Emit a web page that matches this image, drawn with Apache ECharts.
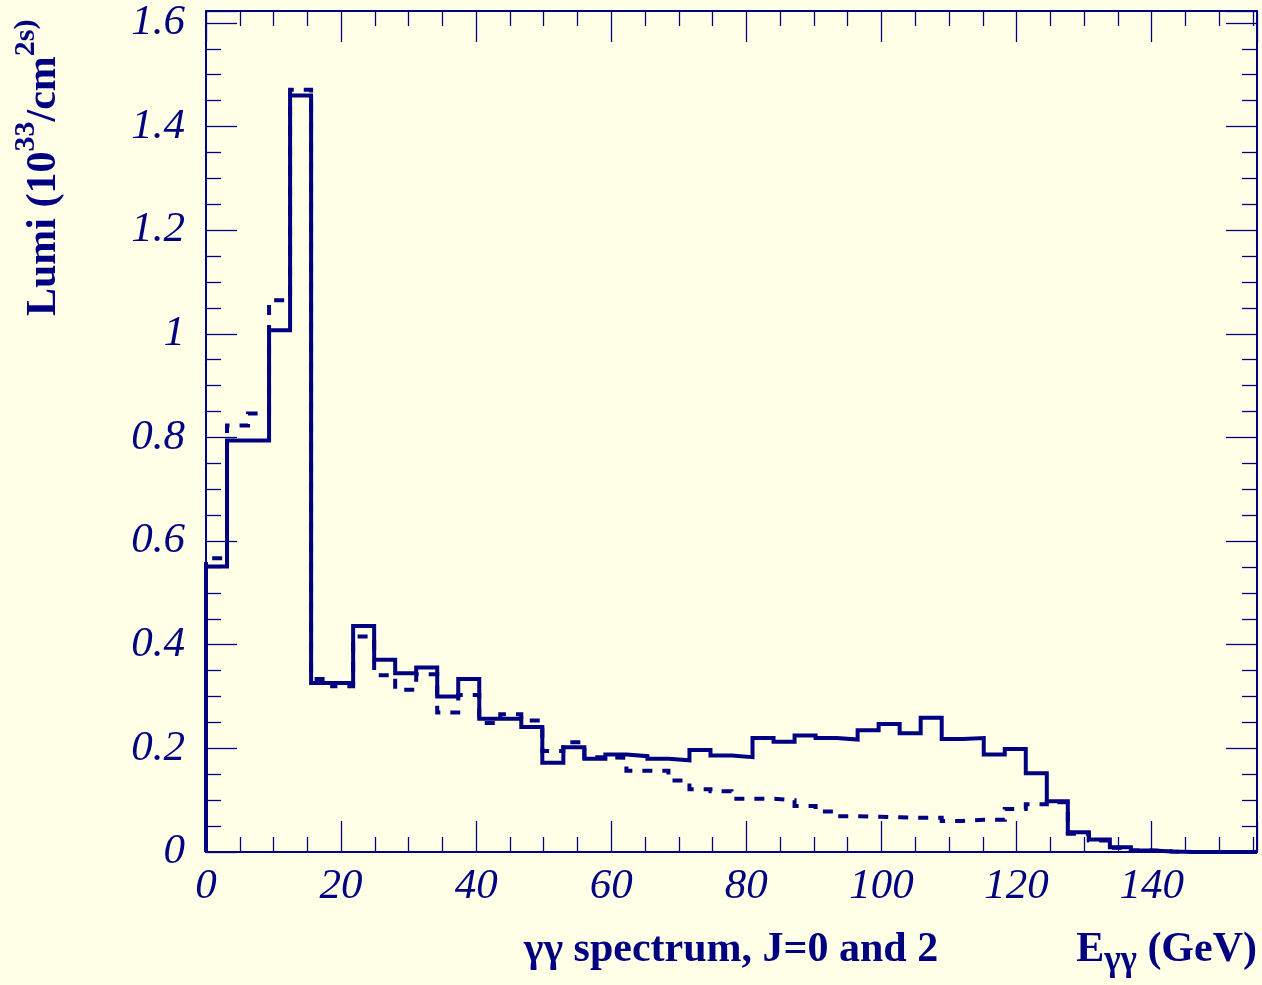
<!DOCTYPE html>
<html>
<head>
<meta charset="utf-8">
<script src="https://cdn.jsdelivr.net/npm/echarts@6/dist/echarts.min.js"></script>
<style>
  html, body { margin: 0; padding: 0; background: #ffffe8; }
  #chart { width: 1262px; height: 985px; }
</style>
</head>
<body>
<div id="chart"></div>
<script>
// ---- Histogram definition (50 bins from 0 to 155.6 GeV) ----
const X_MIN = 0;
const X_MAX = 155.6;
const N_BINS = 50;
const Y_MIN = 0;
const Y_MAX = 1.623;

// Axis ticks
const X_TICK_INTERVAL = 20;
const Y_TICK_INTERVAL = 0.2;

// Solid histogram: luminosity per bin (10^33 / cm^2 s)
const solidValues = [
  0.551, 0.794, 0.794, 1.007, 1.460, 0.326, 0.326, 0.436, 0.371, 0.345,
  0.356, 0.300, 0.334, 0.257, 0.257, 0.241, 0.172, 0.202, 0.180, 0.188,
  0.185, 0.180, 0.177, 0.197, 0.186, 0.183, 0.220, 0.213, 0.225, 0.220,
  0.217, 0.235, 0.247, 0.229, 0.259, 0.218, 0.220, 0.188, 0.199, 0.152,
  0.098, 0.038, 0.024, 0.009, 0.003, 0.001, 0, 0, 0, 0
];

// Dashed histogram
const dashedValues = [
  0.567, 0.823, 0.846, 1.065, 1.471, 0.334, 0.320, 0.416, 0.341, 0.313,
  0.343, 0.269, 0.303, 0.249, 0.266, 0.254, 0.195, 0.212, 0.183, 0.182,
  0.157, 0.157, 0.138, 0.121, 0.117, 0.103, 0.103, 0.100, 0.089, 0.078,
  0.069, 0.068, 0.067, 0.066, 0.066, 0.060, 0.062, 0.062, 0.083, 0.092,
  0.096, 0.035, 0.022, 0.008, 0.003, 0.001, 0, 0, 0, 0
];

// Texts (each piece: [text, isScript])
const xTitle = 'γγ spectrum, J=0 and 2';
const xUnitParts = [['E', false], ['γγ', true], [' (GeV)', false]];
const yTitleParts = [['Lumi (10', false], ['33', true], ['/cm', false], ['2s)', true]];

// ---- build ----
const binWidth = (X_MAX - X_MIN) / N_BINS;
const edges = [];
for (let i = 0; i <= N_BINS; i++) edges.push(+(X_MIN + i * binWidth).toFixed(5));

function histData(vals) {
  const d = [[edges[0], 0]];
  for (let i = 0; i < vals.length; i++) d.push([edges[i], vals[i]]);
  d.push([edges[N_BINS], 0]);
  return d;
}

const NAVY = '#000080';
const SERIF = "'Liberation Serif', 'Times New Roman', 'DejaVu Serif', serif";
const MAIN_FONT = 'bold 42px ' + SERIF;
const SUP_FONT = 'bold 30px ' + SERIF;
const SUB_FONT = 'bold 35px ' + SERIF;

const mctx = document.createElement('canvas').getContext('2d');
function textWidth(t, font) { mctx.font = font; return mctx.measureText(t).width; }

const graphics = [];
// x-axis title
graphics.push({
  type: 'text', x: 731, y: 950,
  style: { text: xTitle, fill: NAVY, font: MAIN_FONT, align: 'center', verticalAlign: 'middle' }
});
// x unit, right aligned at plot right edge, built right-to-left
(function () {
  let right = 1257;
  for (let i = xUnitParts.length - 1; i >= 0; i--) {
    const [t, script] = xUnitParts[i];
    const font = script ? SUB_FONT : MAIN_FONT;
    graphics.push({
      type: 'text', x: right, y: script ? 961 : 950,
      style: { text: t, fill: NAVY, font: font, align: 'right', verticalAlign: 'middle' }
    });
    right -= textWidth(t, font);
  }
})();
// y-axis title, rotated, built bottom-to-top
(function () {
  let start = 316;
  for (const [t, script] of yTitleParts) {
    const font = script ? SUP_FONT : MAIN_FONT;
    graphics.push({
      type: 'text', x: script ? 26 : 44, y: start, rotation: Math.PI / 2,
      style: { text: t, fill: NAVY, font: font, align: 'left', verticalAlign: 'middle' }
    });
    start -= textWidth(t, font);
  }
})();

const chart = echarts.init(document.getElementById('chart'), null, { renderer: 'canvas' });

const tickCommon = {
  axisLine: { show: true, onZero: false, lineStyle: { color: NAVY, width: 2 } },
  axisTick: { show: true, inside: true, length: 31, lineStyle: { color: NAVY, width: 1.3 } },
  minorTick: { show: true, splitNumber: 4, length: 15, lineStyle: { color: NAVY, width: 1.3 } },
  splitLine: { show: false },
  minorSplitLine: { show: false }
};

const labelStyle = {
  color: NAVY,
  fontFamily: SERIF,
  fontStyle: 'italic',
  fontSize: 43,
  showMaxLabel: false
};

chart.setOption({
  backgroundColor: '#ffffe8',
  animation: false,
  grid: { left: 206, right: 5, top: 11, bottom: 133, containLabel: false },
  xAxis: [
    Object.assign({
      type: 'value', position: 'bottom', min: X_MIN, max: X_MAX, interval: X_TICK_INTERVAL,
      axisLabel: Object.assign({ margin: 13 }, labelStyle)
    }, tickCommon),
    Object.assign({
      type: 'value', position: 'top', min: X_MIN, max: X_MAX, interval: X_TICK_INTERVAL,
      axisLabel: { show: false }
    }, tickCommon)
  ],
  yAxis: [
    Object.assign({
      type: 'value', position: 'left', min: Y_MIN, max: Y_MAX, interval: Y_TICK_INTERVAL,
      axisLabel: Object.assign({ margin: 21 }, labelStyle)
    }, tickCommon),
    Object.assign({
      type: 'value', position: 'right', min: Y_MIN, max: Y_MAX, interval: Y_TICK_INTERVAL,
      axisLabel: { show: false }
    }, tickCommon)
  ],
  series: [
    {
      name: 'dashed', type: 'line', step: 'end', data: histData(dashedValues),
      showSymbol: false, symbol: 'none', clip: true,
      lineStyle: { color: NAVY, width: 4, type: [10, 10], cap: 'butt', join: 'miter' },
      z: 2
    },
    {
      name: 'solid', type: 'line', step: 'end', data: histData(solidValues),
      showSymbol: false, symbol: 'none', clip: true,
      lineStyle: { color: NAVY, width: 4, type: 'solid', cap: 'butt', join: 'miter' },
      z: 3
    }
  ],
  graphic: graphics
});
</script>
</body>
</html>
